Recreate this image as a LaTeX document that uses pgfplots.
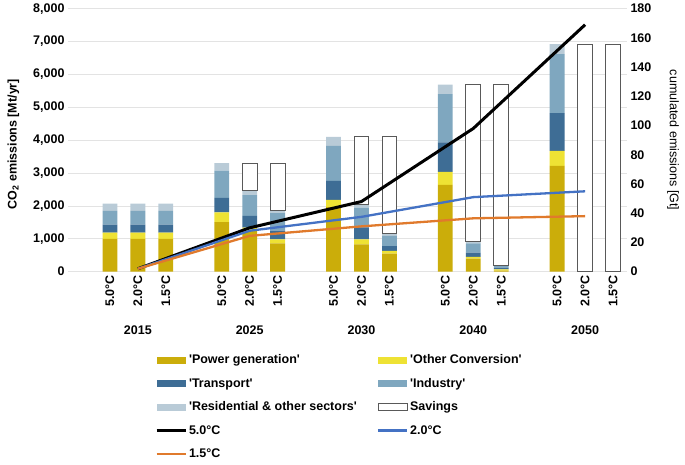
\documentclass[border=0pt]{standalone}
\usepackage{fontspec}
\setmainfont{Liberation Sans}[Ligatures=TeXOff]
\usepackage{pgfplots}
\pgfplotsset{compat=1.18}
\definecolor{powc}{HTML}{CBAD0A}
\definecolor{othc}{HTML}{EEE234}
\definecolor{trac}{HTML}{3E6D95}
\definecolor{indc}{HTML}{7FA7BF}
\definecolor{resc}{HTML}{B9CBD7}
\definecolor{blu}{HTML}{4472C4}
\definecolor{ora}{HTML}{E07A2C}
\definecolor{gridc}{HTML}{E3E3E3}
\definecolor{savc}{HTML}{595959}
\newcommand{\tfont}{\bfseries\fontsize{12.5}{15}\selectfont}
\pgfplotsset{
  base/.style={width=559pt, height=263pt, scale only axis, xmin=-0.5, xmax=19.5, ymin=0,
    clip=false, axis line style={draw=none}, major tick length=0pt},
  barleg/.style={legend image code/.code={\path[##1] (0pt,-3.5pt) rectangle (29pt,3.5pt);}},
  lineleg/.style={legend image code/.code={\draw[##1] (0pt,0pt) -- (29pt,0pt);}},
}
\begin{document}
\begin{tikzpicture}
% ---------- sector bars (left axis) ----------
\begin{axis}[base, name=main, ybar stacked, bar width=0.53, ymax=8000,
  ytick={0,1000,...,8000}, ymajorgrids, grid style={gridc, line width=0.8pt},
  xtick={1,2,3,5,6,7,9,10,11,13,14,15,17,18,19},
  xticklabels={5.0°C,2.0°C,1.5°C,5.0°C,2.0°C,1.5°C,5.0°C,2.0°C,1.5°C,5.0°C,2.0°C,1.5°C,5.0°C,2.0°C,1.5°C},
  xticklabel style={rotate=90, anchor=east, font=\tfont},
  yticklabel style={font=\tfont},
  ylabel={CO\textsubscript{2} emissions [Mt/yr]},
  ylabel style={font=\tfont, yshift=7pt, xshift=-4pt},
  /pgf/number format/.cd, 1000 sep={,}, assume math mode=true]
\addplot[fill=powc, draw=none] coordinates {(1,1000) (2,1000) (3,1000) (5,1510) (6,1240) (7,860) (9,1960) (10,830) (11,545) (13,2640) (14,400) (15,30) (17,3220) (18,0) (19,0)};
\addplot[fill=othc, draw=none] coordinates {(1,190) (2,190) (3,190) (5,290) (6,100) (7,125) (9,220) (10,150) (11,90) (13,395) (14,50) (15,40) (17,455) (18,0) (19,0)};
\addplot[fill=trac, draw=none] coordinates {(1,240) (2,240) (3,240) (5,445) (6,355) (7,265) (9,580) (10,365) (11,140) (13,895) (14,130) (15,50) (17,1145) (18,0) (19,0)};
\addplot[fill=indc, draw=none] coordinates {(1,420) (2,420) (3,420) (5,825) (6,630) (7,530) (9,1065) (10,605) (11,315) (13,1470) (14,280) (15,60) (17,1800) (18,0) (19,0)};
\addplot[fill=resc, draw=none] coordinates {(1,220) (2,220) (3,220) (5,230) (6,135) (7,70) (9,275) (10,100) (11,75) (13,290) (14,70) (15,20) (17,305) (18,0) (19,0)};
\foreach \x/\yr in {2/2015,6/2025,10/2030,14/2040,18/2050}{
  \edef\tmp{\noexpand\node[font=\noexpand\tfont, yshift=-59pt] at (axis cs:\x,0) {\yr};}\tmp
}
\end{axis}
% ---------- savings bars ----------
\begin{axis}[base, hide axis, ybar stacked, bar width=0.53, ymax=8000]
\addplot[fill=none, draw=none] coordinates {(6,2460) (7,1850) (10,2050) (11,1165) (14,930) (15,200) (18,0) (19,0)};
\addplot[fill=white, draw=savc, line width=0.9pt] coordinates {(6,840) (7,1450) (10,2050) (11,2935) (14,4760) (15,5490) (18,6925) (19,6925)};
\end{axis}
% ---------- cumulated emissions (right axis) ----------
\begin{axis}[base, ymax=180, axis x line=none, axis y line*=right,
  ytick={0,20,...,180}, yticklabel style={font=\tfont},
  ylabel={cumulated emissions [Gt]},
  ylabel style={font=\fontsize{12.5}{15}\selectfont, rotate=180, yshift=9pt},
  /pgf/number format/assume math mode=true,
  legend columns=2, legend cell align=left,
  legend style={at={(0.150,-0.30)}, anchor=north west, draw=none, fill=none,
    font=\tfont, row sep=9pt,
    /tikz/every even column/.append style={column sep=18pt}}]
\addlegendimage{barleg, fill=powc, draw=none}
\addlegendentry{'Power generation'}
\addlegendimage{barleg, fill=othc, draw=none}
\addlegendentry{'Other Conversion'}
\addlegendimage{barleg, fill=trac, draw=none}
\addlegendentry{'Transport'}
\addlegendimage{barleg, fill=indc, draw=none}
\addlegendentry{'Industry'}
\addlegendimage{barleg, fill=resc, draw=none}
\addlegendentry{'Residential \& other sectors'}
\addlegendimage{barleg, fill=white, draw=savc, line width=0.9pt}
\addlegendentry{Savings}
\addplot[lineleg, black, line width=3pt, line join=round] coordinates {(2,2) (6,30) (10,48) (14,98) (18,169)};
\addlegendentry{5.0°C}
\addplot[lineleg, blu, line width=2.3pt, line join=round] coordinates {(2,2) (6,28) (10,37.5) (14,51) (18,55)};
\addlegendentry{2.0°C}
\addplot[lineleg, ora, line width=2.3pt, line join=round] coordinates {(2,2) (6,24.5) (10,31) (14,36.5) (18,38)};
\addlegendentry{1.5°C}
\end{axis}
\path ([xshift=-68pt, yshift=-193pt]main.south west) rectangle ([xshift=58pt, yshift=8pt]main.north east);
\end{tikzpicture}
\end{document}
